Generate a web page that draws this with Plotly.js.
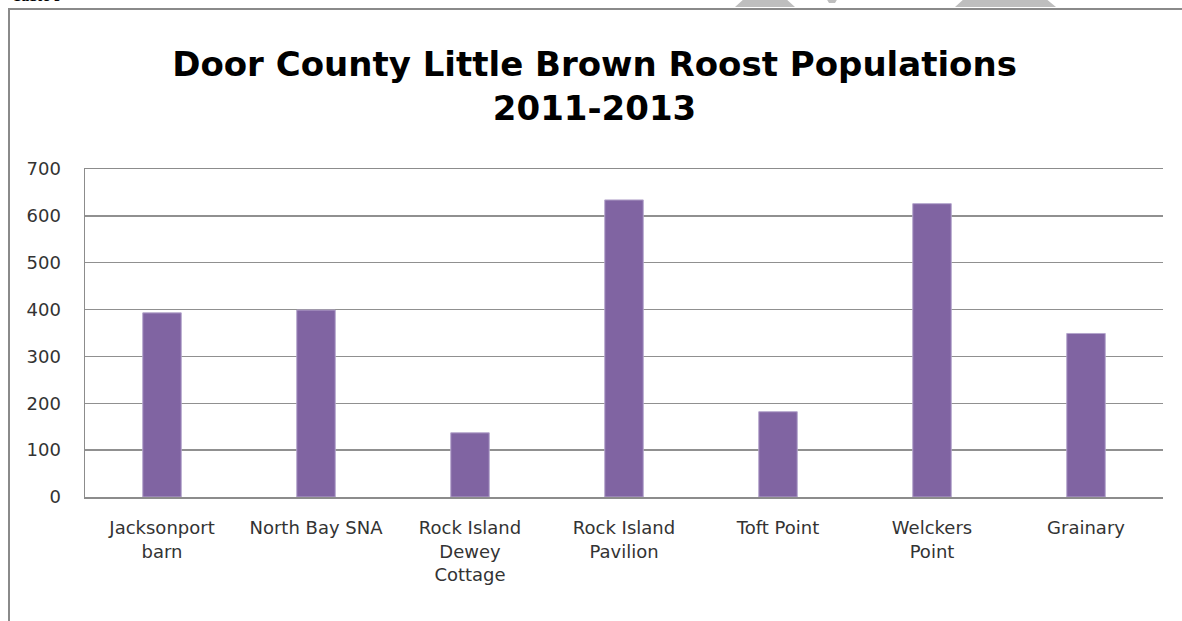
<!DOCTYPE html>
<html>
<head>
<meta charset="utf-8">
<script src="https://cdn.plot.ly/plotly-3.0.1.min.js"></script>
<style>
  html, body { margin: 0; padding: 0; background: #fff; }
  #wrap { position: absolute; left: 0; top: 0; width: 1182px; height: 621px; overflow: hidden; }
  #frame { position: absolute; left: 8px; top: 8px; width: 1200px; height: 700px;
           border-left: 2px solid #8a8a8a; border-top: 2px solid #8a8a8a; box-sizing: border-box; }
  #chart { position: absolute; left: 0; top: 0; width: 1182px; height: 621px; }
</style>
</head>
<body>
<div id="wrap">
  <div id="frame"></div>
  <div id="chart"></div>
</div>
<script>
// Data
const sites = [
  "Jacksonport<br>barn",
  "North Bay SNA",
  "Rock Island<br>Dewey<br>Cottage",
  "Rock Island<br>Pavilion",
  "Toft Point",
  "Welckers<br>Point",
  "Grainary"
];
const populations = [393, 399, 137, 634, 182, 626, 349];
const yTicks = [0, 100, 200, 300, 400, 500, 600, 700];
const chartTitle = "Door County Little Brown Roost Populations<br>2011-2013";

// helpers for pixel -> paper conversion (decoration only)
const L = 85, R = 1163, T = 169, B = 497;
const px = x => (x - L) / (R - L);
const py = y => (B - y) / (B - T);

const trace = {
  type: "bar",
  x: sites,
  y: populations,
  marker: { color: "#8064A2", line: { color: "#b4a5cc", width: 1 } },
  hoverinfo: "x+y"
};

const grey = "rgba(190,190,190,1)";
const layout = {
  width: 1182,
  height: 621,
  paper_bgcolor: "rgba(0,0,0,0)",
  plot_bgcolor: "rgba(0,0,0,0)",
  margin: { l: L, r: 1182 - R, t: T, b: 621 - B, pad: 0 },
  showlegend: false,
  bargap: 0.75,
  title: {
    text: chartTitle,
    x: 0.503, xref: "container", xanchor: "center",
    y: 0.878, yref: "container", yanchor: "middle",
    font: { family: "'DejaVu Sans', sans-serif", size: 34, color: "#000", weight: "bold" }
  },
  xaxis: {
    type: "category",
    showgrid: false,
    showline: true, linecolor: "#8c8c8c", linewidth: 1.5, mirror: true,
    ticks: "", ticklabelstandoff: 14,
    tickfont: { family: "'DejaVu Sans', sans-serif", size: 18, color: "#333" },
    fixedrange: true
  },
  yaxis: {
    range: [0, 700],
    tickvals: yTicks,
    ticktext: yTicks.map(String),
    showgrid: true, gridcolor: "#909090", gridwidth: 1.5,
    zeroline: false,
    showline: true, linecolor: "#8c8c8c", linewidth: 1.5,
    ticks: "", ticklabelstandoff: 19,
    tickfont: { family: "'DejaVu Sans', sans-serif", size: 18, color: "#333" },
    fixedrange: true
  },
  annotations: [
    { text: "<b>Table 9</b>", xref: "paper", yref: "paper", x: px(10), y: py(6),
      xanchor: "left", yanchor: "bottom", showarrow: false,
      font: { family: "'Liberation Serif', serif", size: 16, color: "#000" } }
  ],
  shapes: [
    { type: "path", xref: "paper", yref: "paper", fillcolor: grey, line: { width: 0 },
      path: `M ${px(735)} ${py(7)} L ${px(745)} ${py(-2)} L ${px(785)} ${py(-2)} L ${px(795)} ${py(7)} Z` },
    { type: "path", xref: "paper", yref: "paper", fillcolor: grey, line: { width: 0 },
      path: `M ${px(826)} ${py(-2)} L ${px(838)} ${py(-2)} L ${px(835)} ${py(3)} L ${px(829)} ${py(3)} Z` },
    { type: "path", xref: "paper", yref: "paper", fillcolor: grey, line: { width: 0 },
      path: `M ${px(955)} ${py(7)} L ${px(965)} ${py(-2)} L ${px(1045)} ${py(-2)} L ${px(1056)} ${py(7)} Z` }
  ]
};

Plotly.newPlot("chart", [trace], layout, { displayModeBar: false, staticPlot: true });
</script>
</body>
</html>
